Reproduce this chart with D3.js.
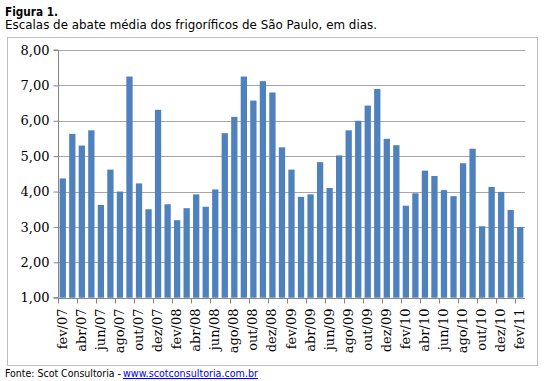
<!DOCTYPE html>
<html><head><meta charset="utf-8">
<script src="https://cdn.jsdelivr.net/npm/d3@7"></script>
<style>
html,body{margin:0;padding:0;background:#fff;}
svg{display:block;}
</style></head>
<body>
<script>
const months = ["jan","fev","mar","abr","mai","jun","jul","ago","set","out","nov","dez"];
const categories = [];
for (let yr = 7, m = 1; categories.length < 49; ) {
  categories.push(months[m] + "/" + String(yr).padStart(2, "0"));
  m++; if (m === 12) { m = 0; yr++; }
}
const values = [4.37,5.63,5.30,5.73,3.62,4.62,4.00,7.25,4.23,3.50,6.31,3.64,
  3.19,3.53,3.92,3.57,4.06,5.65,6.11,7.25,6.57,7.12,6.80,5.25,
  4.62,3.85,3.92,4.83,4.10,5.02,5.73,6.00,6.43,6.90,5.49,5.31,
  3.60,3.95,4.59,4.44,4.04,3.87,4.80,5.21,3.02,4.13,3.99,3.48,3.00];
const yTicks = [1,2,3,4,5,6,7,8];
const tickLabels = categories.filter((d,i)=>i%2===0);

const W = 546, H = 381;
const svg = d3.select("body").append("svg").attr("width", W).attr("height", H);

const pLeft = 58, pRight = 525, pTop = 50, pBottom = 297.7;
const x = d3.scaleBand().domain(categories).range([pLeft, pRight]).paddingInner(0.34).paddingOuter(0.17);
const y = d3.scaleLinear().domain([1, 8]).range([pBottom, pTop]);

// chart area border
svg.append("rect").attr("x", 7.5).attr("y", 37.5).attr("width", 530).attr("height", 328)
  .attr("fill", "#fff").attr("stroke", "#c0c0c0").attr("stroke-width", 1);

// title
svg.append("text").attr("x", 5).attr("y", 16).attr("font-family", "DejaVu Sans")
  .attr("font-size", 11.5).attr("font-weight", "bold").attr("fill", "#000")
  .attr("textLength", 53).attr("lengthAdjust", "spacingAndGlyphs").text("Figura 1.");
svg.append("text").attr("x", 5).attr("y", 29).attr("font-family", "DejaVu Sans")
  .attr("font-size", 11.5).attr("fill", "#000")
  .attr("textLength", 372).attr("lengthAdjust", "spacingAndGlyphs")
  .text("Escalas de abate média dos frigoríficos de São Paulo, em dias.");

// gridlines
svg.append("g").selectAll("line").data(yTicks.filter(d=>d>1)).join("line")
  .attr("x1", pLeft).attr("x2", pRight)
  .attr("y1", d => Math.round(y(d)) + 0.5).attr("y2", d => Math.round(y(d)) + 0.5)
  .attr("stroke", "#a6a6a6").attr("stroke-width", 1);

// bars
svg.append("g").selectAll("rect").data(values).join("rect")
  .attr("x", (d,i) => x(categories[i]))
  .attr("width", x.bandwidth())
  .attr("y", d => y(d))
  .attr("height", d => y(1) - y(d))
  .attr("fill", "#4f81bd");

// y axis
const yAxis = d3.axisLeft(y).tickValues(yTicks).tickSize(5).tickPadding(4)
  .tickFormat(d => d3.format(".2f")(d).replace(".", ","));
const gy = svg.append("g").attr("transform", `translate(${pLeft + 0.5},0)`).call(yAxis);
gy.select(".domain").attr("stroke", "#868686").attr("d", `M-5,${pTop}H0V${pBottom}H-5`);
gy.selectAll(".tick line").attr("stroke", "#868686");
gy.selectAll(".tick text").attr("font-family", "DejaVu Serif").attr("font-size", 13).attr("fill", "#000");

// x axis
const step = x.step();
const xAxis = d3.axisBottom(x).tickValues(tickLabels).tickSize(0).tickPadding(0);
const gx = svg.append("g").attr("transform", `translate(0,${Math.round(pBottom) + 0.5})`).call(xAxis);
gx.select(".domain").attr("stroke", "#868686").attr("d", `M${pLeft},0H${pRight}`);
gx.selectAll(".tick text")
  .attr("font-family", "DejaVu Serif").attr("font-size", 13).attr("fill", "#000")
  .attr("text-anchor", "end").attr("dy", null)
  .attr("transform", "translate(4,10) rotate(-90)");
// tick marks every two categories at band boundaries
const boundaries = d3.range(0, categories.length + 1, 2).map(i => pLeft + i * step);
gx.append("g").selectAll("line").data(boundaries).join("line")
  .attr("x1", d => Math.round(d) + 0.5).attr("x2", d => Math.round(d) + 0.5)
  .attr("y1", 0).attr("y2", 5).attr("stroke", "#868686");

// source
svg.append("text").attr("x", 5).attr("y", 377).attr("font-family", "DejaVu Sans")
  .attr("font-size", 10.5).attr("fill", "#000")
  .attr("textLength", 116).attr("lengthAdjust", "spacingAndGlyphs")
  .text("Fonte: Scot Consultoria -");
svg.append("text").attr("x", 123).attr("y", 377).attr("font-family", "DejaVu Sans")
  .attr("font-size", 10.5).attr("fill", "#0000ee").attr("text-decoration", "underline")
  .attr("textLength", 135).attr("lengthAdjust", "spacingAndGlyphs")
  .text("www.scotconsultoria.com.br");
</script>
</body></html>
